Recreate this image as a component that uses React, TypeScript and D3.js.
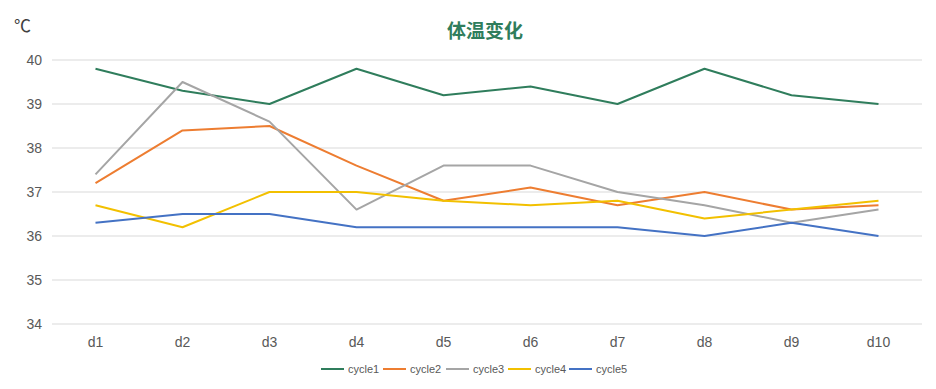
import React from 'react';
import * as d3 from 'd3';

const days = ['d1', 'd2', 'd3', 'd4', 'd5', 'd6', 'd7', 'd8', 'd9', 'd10'];
const cycle1 = [39.8, 39.3, 39.0, 39.8, 39.2, 39.4, 39.0, 39.8, 39.2, 39.0];
const cycle2 = [37.2, 38.4, 38.5, 37.6, 36.8, 37.1, 36.7, 37.0, 36.6, 36.7];
const cycle3 = [37.4, 39.5, 38.6, 36.6, 37.6, 37.6, 37.0, 36.7, 36.3, 36.6];
const cycle4 = [36.7, 36.2, 37.0, 37.0, 36.8, 36.7, 36.8, 36.4, 36.6, 36.8];
const cycle5 = [36.3, 36.5, 36.5, 36.2, 36.2, 36.2, 36.2, 36.0, 36.3, 36.0];
const yTicks = [34, 35, 36, 37, 38, 39, 40];

const series = [
  { name: 'cycle1', values: cycle1, color: '#2f7d5c' },
  { name: 'cycle2', values: cycle2, color: '#ed7d31' },
  { name: 'cycle3', values: cycle3, color: '#a5a5a5' },
  { name: 'cycle4', values: cycle4, color: '#f2c000' },
  { name: 'cycle5', values: cycle5, color: '#4472c4' },
];

const W = 936;
const H = 389;
const font = '"Liberation Sans", Arial, sans-serif';

export default function App() {
  const x = d3.scaleBand<string>().domain(days).range([52, 922]);
  const y = d3.scaleLinear().domain([34, 40]).range([324, 60]);
  const line = d3
    .line<number>()
    .x((_, i) => x(days[i])! + x.bandwidth() / 2)
    .y((d) => y(d));

  const legendX = [321, 383, 446, 508, 569];

  return (
    <svg width={W} height={H} style={{ position: 'absolute', left: 0, top: 0 }}>
      <rect width={W} height={H} fill="#fff" />
      <text x={14} y={32} fontSize={17} fill="#404040" fontFamily="Noto Sans CJK SC">℃</text>
      <text x={485} y={38} textAnchor="middle" fontSize={19} fontWeight="bold" fill="#2f7d5c" fontFamily="Noto Sans CJK SC">
        体温变化
      </text>
      {yTicks.map((t) => (
        <g key={t}>
          <line x1={52} x2={922} y1={y(t)} y2={y(t)} stroke="#d9d9d9" strokeWidth={1} />
          <text x={42} y={y(t)} dy="0.35em" textAnchor="end" fontSize={14} fill="#595959" fontFamily={font}>
            {t}
          </text>
        </g>
      ))}
      {days.map((d) => (
        <text key={d} x={x(d)! + x.bandwidth() / 2} y={347} textAnchor="middle" fontSize={14} fill="#595959" fontFamily={font}>
          {d}
        </text>
      ))}
      {series.map((s) => (
        <path key={s.name} d={line(s.values)!} fill="none" stroke={s.color} strokeWidth={2} strokeLinejoin="round" />
      ))}
      {series.map((s, i) => (
        <g key={s.name} transform={`translate(${legendX[i]},369)`}>
          <line x1={0} x2={23} y1={0} y2={0} stroke={s.color} strokeWidth={2} />
          <text x={27} y={0} dy="0.35em" fontSize={11} fill="#595959" fontFamily={font}>
            {s.name}
          </text>
        </g>
      ))}
    </svg>
  );
}
